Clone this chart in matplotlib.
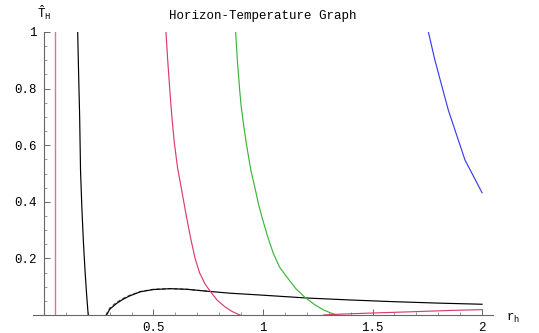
import matplotlib
matplotlib.use("Agg")
import matplotlib.pyplot as plt
from matplotlib.ticker import MultipleLocator, FixedLocator

plt.rcParams["font.family"] = "Liberation Mono"
plt.rcParams["mathtext.fontset"] = "custom"
plt.rcParams["mathtext.rm"] = "Liberation Mono"
plt.rcParams["mathtext.it"] = "Liberation Mono"

# vertical line (pink)
vline_r = 0.05

# steep black branch
black_a_r = [0.154, 0.158, 0.163, 0.167, 0.173, 0.180, 0.188, 0.195, 0.202]
black_a_t = [1.0, 0.86, 0.70, 0.51, 0.38, 0.26, 0.15, 0.07, 0.0]

# lower black branch (solid) and its dashed twin
black_b_r = [0.286, 0.30, 0.33, 0.36, 0.39, 0.44, 0.50, 0.575, 0.65, 0.76, 0.85,
             1.0, 1.2, 1.4, 1.6, 1.8, 2.0]
black_b_t = [0.0, 0.020, 0.040, 0.055, 0.067, 0.082, 0.090, 0.093, 0.091, 0.083,
             0.077, 0.070, 0.060, 0.053, 0.047, 0.042, 0.038]
black_c_r = [0.283, 0.30, 0.33, 0.36, 0.39, 0.44, 0.50, 0.575, 0.65, 0.76]
black_c_t = [0.0, 0.024, 0.044, 0.058, 0.069, 0.083, 0.091, 0.093, 0.091, 0.083]

# pink branch 1
pink_a_r = [0.557, 0.565, 0.575, 0.584, 0.595, 0.61, 0.629, 0.65, 0.67, 0.69,
            0.71, 0.735, 0.758, 0.79, 0.826, 0.86, 0.895]
pink_a_t = [1.0, 0.90, 0.79, 0.70, 0.61, 0.52, 0.44, 0.35, 0.27, 0.20,
            0.15, 0.11, 0.085, 0.053, 0.029, 0.012, 0.0]

# green branch
green_r = [0.875, 0.883, 0.893, 0.90, 0.91, 0.925, 0.945, 0.963, 0.98, 0.999,
           1.02, 1.047, 1.075, 1.108, 1.15, 1.192, 1.235, 1.276, 1.31, 1.337]
green_t = [1.0, 0.90, 0.80, 0.74, 0.68, 0.60, 0.51, 0.45, 0.39, 0.336,
           0.28, 0.218, 0.17, 0.135, 0.093, 0.062, 0.037, 0.018, 0.007, 0.0]

# pink branch 2
pink_b_r = [1.276, 1.35, 1.5, 1.7, 1.85, 2.0]
pink_b_t = [0.0, 0.003, 0.007, 0.012, 0.016, 0.019]

# blue branch
blue_r = [1.755, 1.785, 1.846, 1.922, 2.0]
blue_t = [1.0, 0.90, 0.724, 0.548, 0.432]

PINK = "#dc3c6e"
PINK_LIGHT = "#e0709a"
GREEN = "#3cb43c"
BLUE = "#3c3cf0"

fig = plt.figure(figsize=(5.39, 3.33), dpi=100)
W, H = 539, 333
ax = fig.add_axes([33 / W, 18 / H, 460 / W, 283 / H])
ax.set_xlim(-0.05, 2.05)
ax.set_ylim(0, 1)

lw = 0.85
ax.axvline(vline_r, color=PINK_LIGHT, lw=1.0)
ax.plot(black_a_r, black_a_t, color="black", lw=lw)
ax.plot(black_c_r, black_c_t, color="#555555", lw=lw, ls=(0, (3, 2)))
ax.plot(black_b_r, black_b_t, color="black", lw=lw)
ax.plot(pink_a_r, pink_a_t, color=PINK, lw=lw)
ax.plot(green_r, green_t, color=GREEN, lw=lw)
ax.plot(pink_b_r, pink_b_t, color=PINK, lw=lw)
ax.plot(blue_r, blue_t, color=BLUE, lw=lw)

for s in ["top", "right"]:
    ax.spines[s].set_visible(False)
ax.spines["left"].set_position(("data", 0))
ax.spines["bottom"].set_position(("data", 0))
for s in ["left", "bottom"]:
    ax.spines[s].set_color("#666666")
    ax.spines[s].set_linewidth(0.8)

ax.xaxis.set_major_locator(FixedLocator([0.5, 1.0, 1.5, 2.0]))
ax.xaxis.set_minor_locator(MultipleLocator(0.1))
ax.yaxis.set_major_locator(FixedLocator([0.2, 0.4, 0.6, 0.8, 1.0]))
ax.yaxis.set_minor_locator(MultipleLocator(0.05))
ax.set_xticklabels(["0.5", "1", "1.5", "2"])
ax.set_yticklabels(["0.2", "0.4", "0.6", "0.8", "1"])
ax.tick_params(which="major", direction="in", length=4, width=0.7,
               color="#666666", labelsize=9, pad=5)
ax.tick_params(which="minor", direction="in", length=2, width=0.6,
               color="#888888")

ax.set_title("Horizon-Temperature Graph", fontsize=9, pad=9)
fig.text(513 / W, 1 - 318 / H, r"r$_\mathrm{h}$", fontsize=9,
         ha="center", va="center")
fig.text(44 / W, 1 - 13 / H, r"$\hat{\mathrm{T}}_\mathrm{H}$", fontsize=9,
         ha="center", va="center")

fig.savefig("out.png", dpi=100)
